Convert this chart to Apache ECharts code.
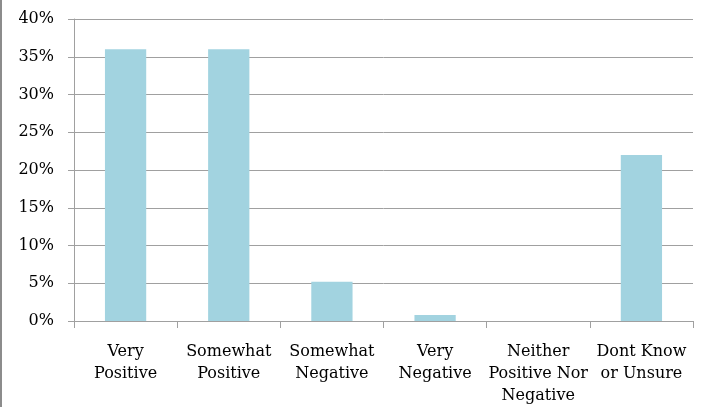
<!DOCTYPE html>
<html>
<head>
<meta charset="utf-8">
<script src="https://cdn.jsdelivr.net/npm/echarts@6/dist/echarts.min.js"></script>
<style>
html,body{margin:0;padding:0;background:#fff;}
#chart{width:704px;height:407px;}
</style>
</head>
<body>
<div id="chart"></div>
<script>
const categories = ["Very\nPositive", "Somewhat\nPositive", "Somewhat\nNegative", "Very\nNegative", "Neither\nPositive Nor\nNegative", "Dont Know\nor Unsure"];
const values = [36, 36, 5.2, 0.8, 0, 22];
const yTicks = { min: 0, max: 40, interval: 5 };

const chart = echarts.init(document.getElementById('chart'));
const font = '"DejaVu Serif", serif';
chart.setOption({
  animation: false,
  backgroundColor: '#fff',
  grid: { left: 74, right: 11, top: 19, bottom: 85, containLabel: false },
  xAxis: {
    type: 'category',
    data: categories,
    axisLine: { lineStyle: { color: '#a0a0a0', width: 1 } },
    axisTick: { show: true, length: 7, lineStyle: { color: '#a0a0a0' } },
    axisLabel: { color: '#000', fontFamily: font, fontSize: 16, lineHeight: 22, margin: 20, interval: 0 }
  },
  yAxis: {
    type: 'value',
    min: yTicks.min, max: yTicks.max, interval: yTicks.interval,
    axisLine: { show: true, lineStyle: { color: '#a0a0a0', width: 1 } },
    axisTick: { show: true, length: 6, lineStyle: { color: '#a0a0a0' } },
    axisLabel: { color: '#000', fontFamily: font, fontSize: 16, margin: 20, formatter: '{value}%' },
    splitLine: { show: true, lineStyle: { color: '#a0a0a0', width: 1 } }
  },
  series: [{
    type: 'bar',
    data: values,
    barWidth: '40%',
    itemStyle: { color: '#A2D3E0' }
  }],
  graphic: [{
    type: 'rect',
    shape: { x: 0, y: 0, width: 2, height: 407 },
    style: { fill: '#8c8c8c' }
  }]
});
</script>
</body>
</html>
